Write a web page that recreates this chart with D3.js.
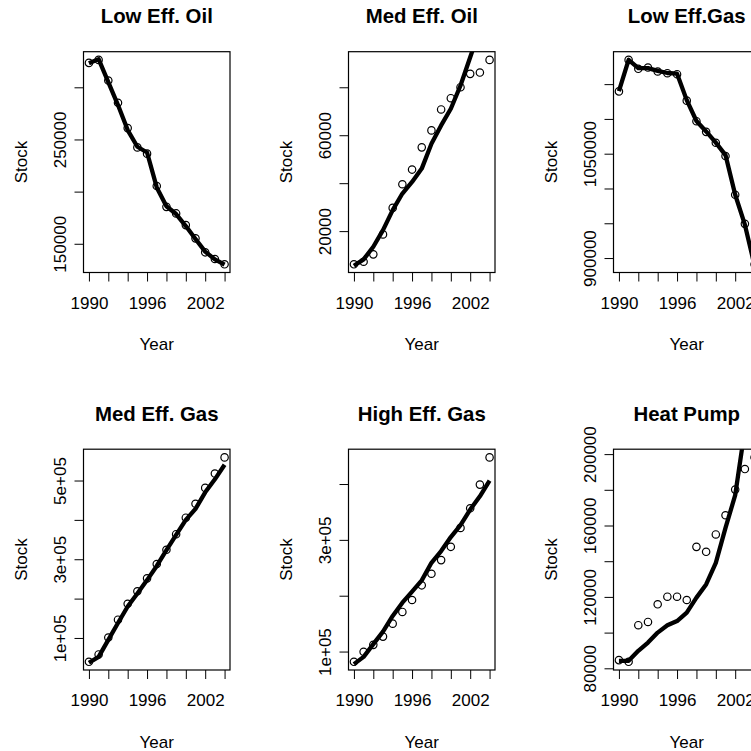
<!DOCTYPE html>
<html>
<head>
<meta charset="utf-8">
<script src="https://cdn.jsdelivr.net/npm/d3@7"></script>
<style>
  html, body { margin: 0; padding: 0; background: #fff; overflow: hidden; }
  svg { display: block; }
  text { font-family: "Liberation Sans", Arial, Helvetica, sans-serif; fill: #000; }
</style>
</head>
<body>
<svg id="chart" width="751" height="751"></svg>
<script>
// Years on the horizontal axis
const years = [1990, 1991, 1992, 1993, 1994, 1995, 1996, 1997, 1998, 1999, 2000, 2001, 2002, 2003, 2004];
const xTicks = [1990, 1992, 1994, 1996, 1998, 2000, 2002, 2004];
const xLabels = [1990, 1996, 2002];

// Observed stock (points) and fitted stock (line) per appliance type
const lowEffOilObs = [323400, 326300, 306500, 285200, 260900, 242400, 236400, 205400, 185400, 179100, 167900, 155200, 141800, 135400, 130300];
const lowEffOilFit = [323000, 327000, 305000, 283000, 259000, 243000, 237500, 204000, 186000, 178500, 167000, 154500, 142500, 135000, 130000];

const medEffOilObs = [6150, 7230, 10310, 18630, 29690, 39550, 45670, 54940, 62020, 70750, 75450, 80030, 85600, 86140, 91430];
const medEffOilFit = [5570, 8220, 13470, 20420, 28740, 35680, 40510, 46080, 56480, 64100, 71040, 80740, 92510, 104400, 116000];

const lowEffGasObs = [1139570, 1184860, 1172000, 1173860, 1168140, 1165720, 1164290, 1126290, 1096710, 1081430, 1065710, 1046710, 991000, 949140, 891000];
const lowEffGasFit = [1140000, 1185000, 1173000, 1173000, 1169000, 1166000, 1165000, 1127000, 1097000, 1082000, 1066000, 1048000, 991000, 948000, 889000];

const medEffGasObs = [39400, 58100, 101000, 146460, 186860, 218680, 251500, 287860, 323970, 363610, 405530, 440880, 481280, 517640, 558790];
const medEffGasFit = [37000, 52000, 95000, 138000, 180000, 213000, 247000, 283000, 323000, 362000, 400000, 428000, 470000, 503000, 540000];

const highEffGasObs = [81600, 99500, 111970, 126790, 150000, 170900, 192330, 218590, 239300, 263770, 287530, 321460, 356650, 398980, 447730];
const highEffGasFit = [77500, 90500, 113200, 135700, 163800, 187500, 207200, 227500, 258900, 279900, 305000, 326300, 354300, 378100, 406100];

const heatPumpObs = [84580, 83630, 104140, 105980, 115870, 120110, 120110, 118270, 148050, 145260, 154980, 165760, 180120, 191630, 198170];
const heatPumpFit = [84200, 84200, 89800, 94400, 100000, 104100, 106500, 111200, 119600, 127000, 139100, 158700, 177000, 214000, 250000];

// Panel titles
const titles = ["Low Eff. Oil", "Med Eff. Oil", "Low Eff.Gas", "Med Eff. Gas", "High Eff. Gas", "Heat Pump"];

// Vertical tick positions and which of them carry a label
const yTicks = [
  [150000, 200000, 250000, 300000],
  [20000, 40000, 60000, 80000],
  [900000, 950000, 1000000, 1050000, 1100000, 1150000],
  [100000, 200000, 300000, 400000, 500000],
  [100000, 200000, 300000, 400000],
  [80000, 100000, 120000, 140000, 160000, 180000, 200000]
];
const yLabelValues = [
  [150000, 250000],
  [20000, 60000],
  [900000, 1050000],
  [100000, 300000, 500000],
  [100000, 300000],
  [80000, 120000, 160000, 200000]
];
const yLabels = [
  ["150000", "250000"],
  ["20000", "60000"],
  ["900000", "1050000"],
  ["1e+05", "3e+05", "5e+05"],
  ["1e+05", "3e+05"],
  ["80000", "120000", "160000", "200000"]
];

const observed = [lowEffOilObs, medEffOilObs, lowEffGasObs, medEffGasObs, highEffGasObs, heatPumpObs];
const fitted = [lowEffOilFit, medEffOilFit, lowEffGasFit, medEffGasFit, highEffGasFit, heatPumpFit];

// Layout of the 2 x 3 grid of panels
const colW = 265, rowH = 397.5;
const plotLeft = 83.5, plotTop = 51.7;
const plotW = 146.5, plotH = 220.8;
const axisFont = "17px";
const titleFont = "20.4px";

// Extend a range by 4% on each side
function pad(ext) {
  const d = (ext[1] - ext[0]) * 0.04;
  return [ext[0] - d, ext[1] + d];
}

const svg = d3.select("#chart");

titles.forEach((title, i) => {
  const col = i % 3, row = Math.floor(i / 3);
  const g = svg.append("g")
    .attr("transform", `translate(${col * colW + plotLeft},${row * rowH + plotTop})`);

  const x = d3.scaleLinear().domain(pad(d3.extent(years))).range([0, plotW]);
  const y = d3.scaleLinear().domain(pad(d3.extent(observed[i]))).range([plotH, 0]);

  const clipId = "plot-clip-" + i;
  g.append("clipPath").attr("id", clipId)
    .append("rect").attr("width", plotW).attr("height", plotH);

  const marks = g.append("g").attr("clip-path", `url(#${clipId})`);

  // observed values as open circles
  marks.selectAll("circle")
    .data(observed[i])
    .join("circle")
    .attr("cx", (d, j) => x(years[j]))
    .attr("cy", d => y(d))
    .attr("r", 3.7)
    .attr("fill", "none")
    .attr("stroke", "#000")
    .attr("stroke-width", 1.2);

  // fitted values as a thick line
  marks.append("path")
    .datum(fitted[i])
    .attr("d", d3.line().x((d, j) => x(years[j])).y(d => y(d)))
    .attr("fill", "none")
    .attr("stroke", "#000")
    .attr("stroke-width", 4.3)
    .attr("stroke-linejoin", "round");

  // frame
  g.append("rect")
    .attr("width", plotW).attr("height", plotH)
    .attr("fill", "none").attr("stroke", "#000").attr("stroke-width", 1.2);

  // bottom axis
  const xa = g.append("g")
    .attr("transform", `translate(0,${plotH})`)
    .call(d3.axisBottom(x).tickValues(xTicks).tickSize(9)
      .tickFormat(d => xLabels.includes(d) ? String(d) : ""));
  xa.select(".domain").remove();
  xa.attr("font-family", null).attr("font-size", null);
  xa.selectAll("line").attr("stroke", "#000").attr("stroke-width", 1);
  xa.selectAll("text")
    .attr("y", 36).attr("dy", null)
    .style("font-size", axisFont);

  // left axis with labels parallel to the axis
  const labelMap = new Map(yLabelValues[i].map((v, k) => [v, yLabels[i][k]]));
  const ya = g.append("g")
    .call(d3.axisLeft(y).tickValues(yTicks[i]).tickSize(9)
      .tickFormat(d => labelMap.has(d) ? labelMap.get(d) : ""));
  ya.select(".domain").remove();
  ya.attr("font-family", null).attr("font-size", null);
  ya.selectAll("line").attr("stroke", "#000").attr("stroke-width", 1);
  ya.selectAll("text")
    .attr("x", 0).attr("y", 0).attr("dy", null)
    .attr("text-anchor", "middle")
    .attr("transform", "translate(-18,0) rotate(-90)")
    .style("font-size", axisFont);

  // axis titles
  g.append("text")
    .attr("transform", `translate(-56.6,${plotH / 2}) rotate(-90)`)
    .attr("text-anchor", "middle")
    .style("font-size", axisFont)
    .text("Stock");

  g.append("text")
    .attr("x", plotW / 2).attr("y", plotH + 78)
    .attr("text-anchor", "middle")
    .style("font-size", axisFont)
    .text("Year");

  // panel title
  g.append("text")
    .attr("x", plotW / 2).attr("y", -28.4)
    .attr("text-anchor", "middle")
    .style("font-size", titleFont)
    .style("font-weight", "bold")
    .text(title);
});
</script>
</body>
</html>
